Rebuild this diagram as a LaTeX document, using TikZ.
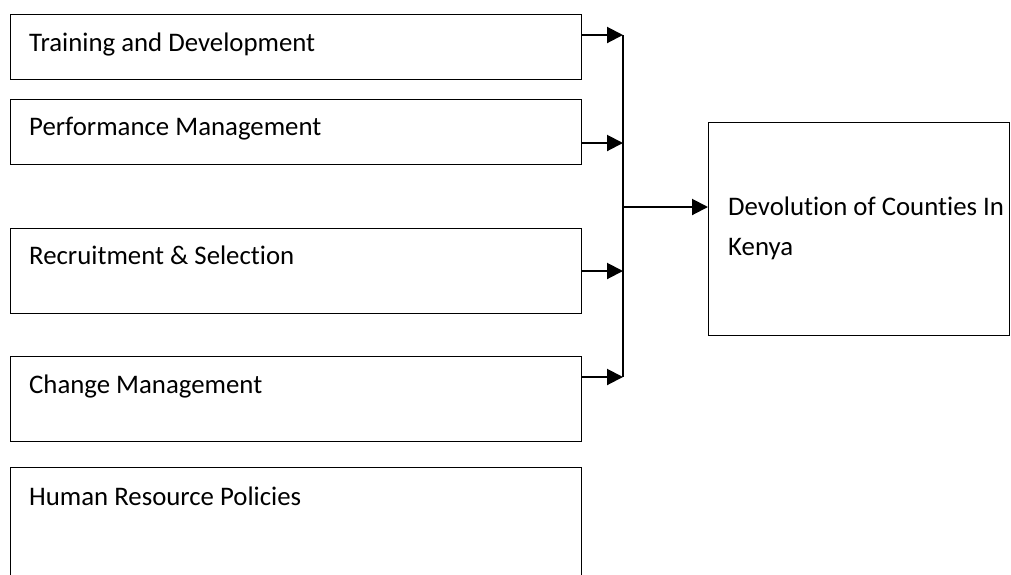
\documentclass[tikz,border=0pt]{standalone}
\usepackage{fontspec}
\setmainfont[Ligatures=NoCommon]{Carlito}
\usetikzlibrary{arrows.meta}
\begin{document}
\begin{tikzpicture}[x=1pt,y=-1pt,
  box/.style={draw=black,line width=1.4pt,rectangle,anchor=north west,inner sep=0pt},
  txt/.style={anchor=west,inner sep=0pt,font=\fontsize{26.8}{40}\selectfont},
  arr/.style={line width=2pt,-{Triangle[length=16pt,width=16pt]}},
  ln/.style={line width=2pt}]
\clip (0,0) rectangle (1011,574);
\fill[white] (0,0) rectangle (1011,574);
% left boxes
\node[box,minimum width=571pt,minimum height=65pt] (b1) at (10,14) {};
\node[txt] (t1) at (29,44) {Training and Development};
\node[box,minimum width=571pt,minimum height=65pt] (b2) at (10,99) {};
\node[txt] (t2) at (29,129) {Performance Management};
\node[box,minimum width=571pt,minimum height=85pt] (b3) at (10,228) {};
\node[txt] (t3) at (29,255) {Recruitment \& Selection};
\node[box,minimum width=571pt,minimum height=85pt] (b4) at (10,356) {};
\node[txt] (t4) at (29,386) {Change Management};
\node[box,minimum width=571pt,minimum height=130pt] (b5) at (10,467) {};
\node[txt] (t5) at (29,496) {Human Resource Policies};
% right box
\node[box,minimum width=301pt,minimum height=213pt] (dv) at (708,122) {};
\node[txt,anchor=north west,align=left] (tdv) at (728,197) {Devolution of Counties In\\Kenya};
% junction
\coordinate (j1) at (623,35);
\coordinate (j2) at (623,143);
\coordinate (j3) at (623,271);
\coordinate (j4) at (623,377);
\coordinate (jm) at (623,207);
\draw[arr] (b1.east |- j1) -- (j1);
\draw[arr] (b2.east |- j2) -- (j2);
\draw[arr] (b3.east |- j3) -- (j3);
\draw[arr] (b4.east |- j4) -- (j4);
\draw[ln] (j1) -- (j4);
\draw[arr] (jm) -- (dv.west |- jm);
\end{tikzpicture}
\end{document}
